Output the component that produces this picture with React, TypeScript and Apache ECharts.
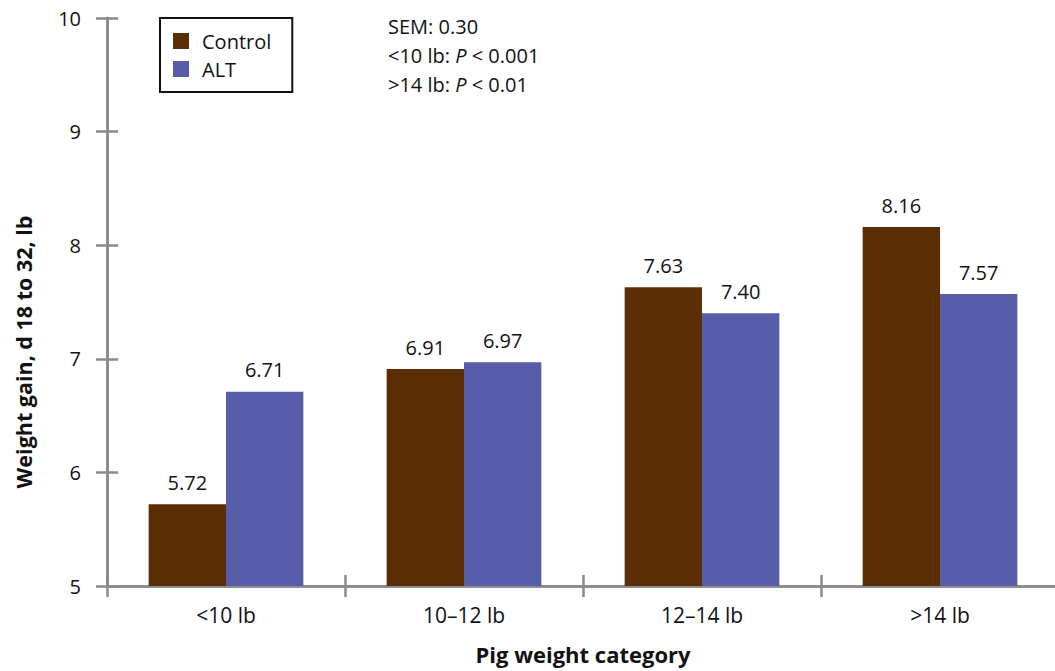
import React, { useEffect, useRef } from "react";
import * as echarts from "echarts";

const categories = ["<10 lb", "10–12 lb", "12–14 lb", ">14 lb"];
const controlValues = [5.72, 6.91, 7.63, 8.16];
const altValues = [6.71, 6.97, 7.4, 7.57];
const seriesNames = ["Control", "ALT"];
const yTicks = { min: 5, max: 10, interval: 1 };
const annotationLines = ["SEM: 0.30", "<10 lb: {i|P} < 0.001", ">14 lb: {i|P} < 0.01"];
const yAxisTitle = "Weight gain, d 18 to 32, lb";
const xAxisTitle = "Pig weight category";

const FONT = "'Open Sans', 'Noto Sans', sans-serif";
const AXIS_COLOR = "#8a8a8a";

export default function App() {
  const ref = useRef<HTMLDivElement>(null);
  useEffect(() => {
    const chart = echarts.init(ref.current!, null, { renderer: "svg" });
    const axisLine = { show: true, lineStyle: { color: AXIS_COLOR, width: 2.5 } };
    const label = {
      show: true,
      position: "top" as const,
      distance: 12,
      fontFamily: FONT,
      fontSize: 20,
      color: "#111",
      formatter: (p: any) => Number(p.value).toFixed(2),
    };
    chart.setOption({
      animation: false,
      textStyle: { fontFamily: FONT },
      grid: { left: 107, right: -4, top: 18, bottom: 85, containLabel: false, outerBoundsMode: "none" },
      legend: {
        orient: "vertical",
        left: 160,
        top: 18,
        padding: [13, 21, 13, 13],
        itemGap: 8,
        itemWidth: 16,
        itemHeight: 16,
        itemTextGap: 13,
        borderColor: "#111",
        borderWidth: 2,
        icon: "rect",
        selectedMode: false,
        textStyle: { fontFamily: FONT, fontSize: 20, color: "#111", lineHeight: 20, padding: [0, 0, 0, 8] },
        data: seriesNames,
      },
      xAxis: [
        {
          type: "category",
          data: categories,
          axisLine,
          axisTick: { show: true, length: 11, lineStyle: { color: AXIS_COLOR, width: 2.5 } },
          axisLabel: { margin: 18, fontFamily: FONT, fontSize: 21, color: "#111" },
          name: xAxisTitle,
          nameLocation: "middle",
          nameGap: 57,
          nameTextStyle: { fontFamily: FONT, fontSize: 22, fontWeight: "bold", color: "#111" },
        },
        {
          type: "category",
          data: categories,
          position: "bottom",
          axisLine,
          axisTick: { show: true, inside: true, length: 11, lineStyle: { color: AXIS_COLOR, width: 2.5 } },
          axisLabel: { show: false },
        },
      ],
      yAxis: [
        {
          type: "value",
          min: yTicks.min,
          max: yTicks.max,
          interval: yTicks.interval,
          axisLine,
          splitLine: { show: false },
          axisTick: { show: true, length: 11, lineStyle: { color: AXIS_COLOR, width: 2.5 } },
          axisLabel: { margin: 26, fontFamily: FONT, fontSize: 20, color: "#111" },
        },
        {
          type: "value",
          min: yTicks.min,
          max: yTicks.max,
          interval: yTicks.interval,
          position: "left",
          axisLine,
          splitLine: { show: false },
          axisTick: { show: true, inside: true, length: 11, lineStyle: { color: AXIS_COLOR, width: 2.5 } },
          axisLabel: { show: false },
        },
      ],
      series: [
        {
          name: seriesNames[0],
          type: "bar",
          data: controlValues,
          itemStyle: { color: "#5c2e06" },
          barGap: "0%",
          barCategoryGap: "35%",
          label,
          z: 1,
        },
        {
          name: seriesNames[1],
          type: "bar",
          data: altValues,
          itemStyle: { color: "#575da9" },
          barGap: "0%",
          barCategoryGap: "35%",
          label,
          z: 1,
        },
      ],
      graphic: [
        ...annotationLines.map((t, i) => ({
          type: "text",
          left: 388,
          top: 16 + i * 29,
          style: {
            text: t,
            fontFamily: FONT,
            fontSize: 20,
            fill: "#111",
            rich: { i: { fontStyle: "italic", fontFamily: FONT, fontSize: 20, fill: "#111" } },
          },
        })),
        {
          type: "text",
          x: 23,
          y: 352,
          rotation: Math.PI / 2,
          style: {
            text: yAxisTitle,
            fontFamily: FONT,
            fontSize: 21.5,
            fontWeight: "bold",
            fill: "#111",
            align: "center",
            verticalAlign: "middle",
          },
        },
      ],
    });
    return () => chart.dispose();
  }, []);
  return (
    <div
      ref={ref}
      style={{ position: "fixed", left: 0, top: 0, width: 1055, height: 671, background: "#fff" }}
    />
  );
}
